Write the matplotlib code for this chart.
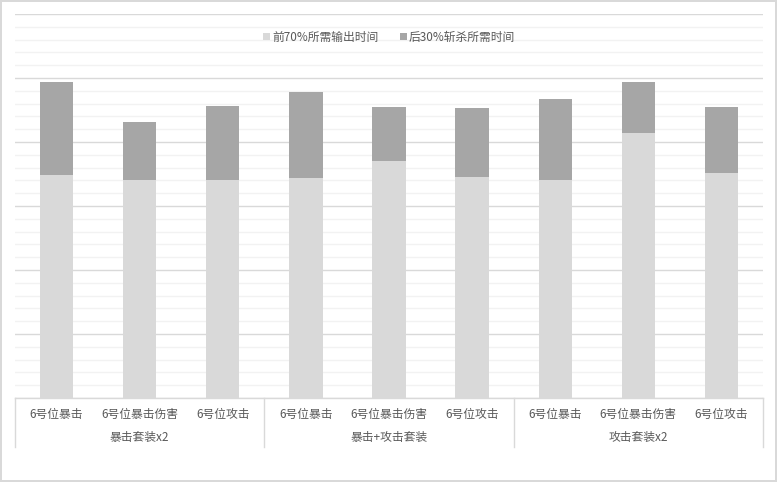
import matplotlib.pyplot as plt
import matplotlib.transforms as mtransforms
import numpy as np

plt.rcParams['font.family'] = ['Noto Sans CJK SC', 'DejaVu Sans']

# data
categories = ['6号位暴击', '6号位暴击伤害', '6号位攻击'] * 3
groups = ['暴击套装x2', '暴击+攻击套装', '攻击套装x2']
first_70 = [34.8, 34.1, 34.1, 34.4, 37.0, 34.5, 34.1, 41.4, 35.2]
last_30 = [14.6, 9.0, 11.5, 13.4, 8.5, 10.8, 12.6, 8.0, 10.3]
series_names = ['前70%所需输出时间', '后30%斩杀所需时间']

light = '#d9d9d9'
dark = '#a6a6a6'
text_c = '#595959'

fig = plt.figure(figsize=(7.77, 4.82), dpi=100, facecolor='white',
                 edgecolor='#d9d9d9', linewidth=1.5)
ax = fig.add_axes([15 / 777, 1 - 398 / 482, 748 / 777, 384 / 482])

x = np.arange(len(categories))
ax.bar(x, first_70, width=0.4, color=light, label=series_names[0], zorder=2)
ax.bar(x, last_30, width=0.4, bottom=first_70, color=dark, label=series_names[1], zorder=2)

ax.set_xlim(-0.5, len(categories) - 0.5)
ax.set_ylim(0, 60)
ax.set_yticks(np.arange(0, 61, 10))
ax.set_yticks(np.arange(0, 61, 2), minor=True)
ax.grid(axis='y', which='major', color='#d9d9d9', linewidth=1)
ax.grid(axis='y', which='minor', color='#f2f2f2', linewidth=1)
ax.set_axisbelow(True)
ax.tick_params(axis='both', which='both', length=0, labelleft=False, labelbottom=False)
for s in ax.spines.values():
    s.set_visible(False)

# category axis with group separators
trans = mtransforms.blended_transform_factory(ax.transData, ax.transAxes)
ax.plot([-0.5, len(categories) - 0.5], [0, 0], color='#d9d9d9', lw=1,
        transform=trans, clip_on=False, zorder=3)
sep_bottom = -(447 - 398) / 384
for xs in [-0.5, 2.5, 5.5, 8.5]:
    ax.plot([xs, xs], [0, sep_bottom], color='#d9d9d9', lw=1,
            transform=trans, clip_on=False)

for i, c in enumerate(categories):
    ax.text(i, -(414 - 398) / 384, c, transform=trans, ha='center', va='center',
            fontsize=8.5, color=text_c)
for g, name in enumerate(groups):
    ax.text(g * 3 + 1, -(438 - 398) / 384, name, transform=trans, ha='center',
            va='center', fontsize=8.5, color=text_c)

leg = ax.legend(loc='center', bbox_to_anchor=(0.5, 1 - (37 - 14) / 384), ncol=2,
                frameon=False, fontsize=8.5, handlelength=0.6, handleheight=0.6,
                handletextpad=0.2, columnspacing=1.8)
for t in leg.get_texts():
    t.set_color(text_c)

fig.savefig('out.png', dpi=100, facecolor='white', edgecolor=fig.get_edgecolor())
